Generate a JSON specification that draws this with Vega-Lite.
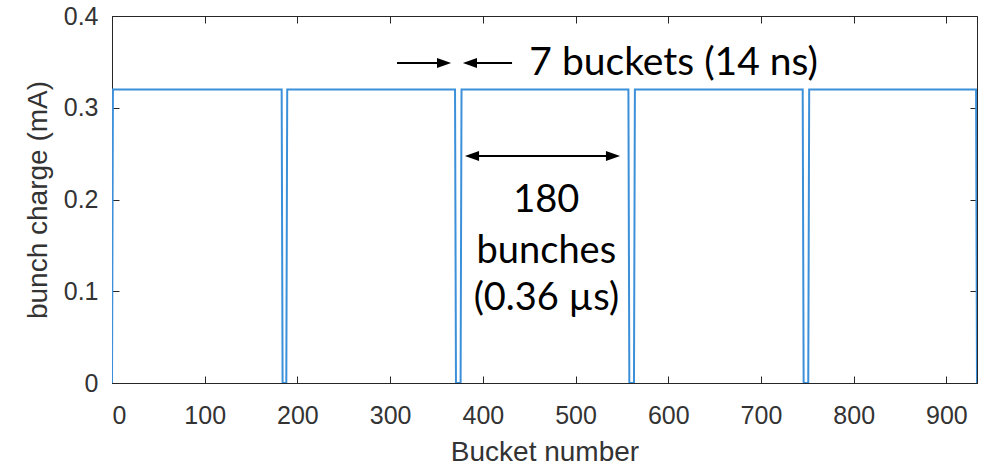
{
  "$schema": "https://vega.github.io/schema/vega-lite/v6.json",
  "width": 865,
  "height": 367,
  "autosize": {"type": "none"},
  "padding": {"left": 112, "top": 16, "right": 10, "bottom": 85},
  "background": "white",
  "config": {
    "view": {"stroke": "#262626", "strokeWidth": 1},
    "axis": {
      "grid": false,
      "domainColor": "#262626",
      "tickColor": "#262626",
      "labelFont": "Liberation Sans",
      "labelFontSize": 25,
      "labelColor": "#333333",
      "titleFont": "Liberation Sans",
      "titleFontSize": 28,
      "titleFontWeight": "normal",
      "titleColor": "#333333",
      "tickSize": -7
    }
  },
  "datasets": {
    "charge": [
      {"bucket": 0, "charge": 0},
      {"bucket": 1, "charge": 0.32},
      {"bucket": 183, "charge": 0.32},
      {"bucket": 184, "charge": 0},
      {"bucket": 188, "charge": 0},
      {"bucket": 189, "charge": 0.32},
      {"bucket": 370, "charge": 0.32},
      {"bucket": 371, "charge": 0},
      {"bucket": 376, "charge": 0},
      {"bucket": 377, "charge": 0.32},
      {"bucket": 557, "charge": 0.32},
      {"bucket": 558, "charge": 0},
      {"bucket": 563, "charge": 0},
      {"bucket": 564, "charge": 0.32},
      {"bucket": 745, "charge": 0.32},
      {"bucket": 746, "charge": 0},
      {"bucket": 751, "charge": 0},
      {"bucket": 752, "charge": 0.32},
      {"bucket": 932, "charge": 0.32},
      {"bucket": 933, "charge": 0}
    ],
    "arrows": [
      {"x1": 307.4, "x2": 362, "y": 0.3488},
      {"x1": 382, "x2": 431.5, "y": 0.3488},
      {"x1": 384, "x2": 544, "y": 0.2474}
    ],
    "headsRight": [
      {"x": 358.2, "y": 0.3488},
      {"x": 540.4, "y": 0.2474}
    ],
    "headsLeft": [
      {"x": 386.1, "y": 0.3488},
      {"x": 388.3, "y": 0.2474}
    ],
    "labelsTop": [
      {"x": 605.8, "y": 0.3357, "text": "7 buckets (14 ns)"}
    ],
    "labels": [
      {"x": 468.5, "y": 0.1864, "text": "180"},
      {"x": 468.5, "y": 0.1308, "text": "bunches"},
      {"x": 468.5, "y": 0.0796, "text": "(0.36 µs)"}
    ]
  },
  "layer": [
    {
      "data": {"name": "charge"},
      "mark": {"type": "line", "color": "#3b90d9", "strokeWidth": 2, "interpolate": "linear", "clip": true},
      "encoding": {
        "x": {"field": "bucket", "type": "quantitative", "scale": {"domain": [0, 933], "nice": false, "zero": false},
          "axis": {"title": "Bucket number", "values": [0, 100, 200, 300, 400, 500, 600, 700, 800, 900], "labelPadding": 27, "titlePadding": 10, "orient": "bottom"}},
        "y": {"field": "charge", "type": "quantitative", "scale": {"domain": [0, 0.4], "nice": false},
          "axis": {"title": "bunch charge (mA)", "values": [0, 0.1, 0.2, 0.3, 0.4], "format": "~g", "labelPadding": 21, "titlePadding": 11, "orient": "left"}}
      }
    },
    {
      "data": {"name": "charge"},
      "mark": {"type": "line", "strokeOpacity": 0},
      "encoding": {
        "x": {"field": "bucket", "type": "quantitative",
          "axis": {"orient": "top", "title": null, "labels": false, "values": [0, 100, 200, 300, 400, 500, 600, 700, 800, 900], "domain": false}},
        "y": {"field": "charge", "type": "quantitative",
          "axis": {"orient": "right", "title": null, "labels": false, "values": [0, 0.1, 0.2, 0.3, 0.4], "domain": false}}
      }
    },
    {
      "data": {"name": "arrows"},
      "mark": {"type": "rule", "color": "black", "strokeWidth": 2},
      "encoding": {
        "x": {"field": "x1", "type": "quantitative", "axis": null},
        "x2": {"field": "x2"},
        "y": {"field": "y", "type": "quantitative", "axis": null}
      }
    },
    {
      "data": {"name": "headsRight"},
      "mark": {"type": "point", "shape": "M-1,-0.7L1,0L-1,0.7Z", "filled": true, "color": "black", "opacity": 1, "size": 200},
      "encoding": {
        "x": {"field": "x", "type": "quantitative", "axis": null},
        "y": {"field": "y", "type": "quantitative", "axis": null}
      }
    },
    {
      "data": {"name": "headsLeft"},
      "mark": {"type": "point", "shape": "M1,-0.7L-1,0L1,0.7Z", "filled": true, "color": "black", "opacity": 1, "size": 200},
      "encoding": {
        "x": {"field": "x", "type": "quantitative", "axis": null},
        "y": {"field": "y", "type": "quantitative", "axis": null}
      }
    },
    {
      "data": {"name": "labelsTop"},
      "mark": {"type": "text", "font": "Lato", "fontSize": 39, "color": "black", "align": "center", "baseline": "alphabetic"},
      "encoding": {
        "x": {"field": "x", "type": "quantitative", "axis": null},
        "y": {"field": "y", "type": "quantitative", "axis": null},
        "text": {"field": "text"}
      }
    },
    {
      "data": {"name": "labels"},
      "mark": {"type": "text", "font": "Lato", "fontSize": 38, "color": "black", "align": "center", "baseline": "alphabetic"},
      "encoding": {
        "x": {"field": "x", "type": "quantitative", "axis": null},
        "y": {"field": "y", "type": "quantitative", "axis": null},
        "text": {"field": "text"}
      }
    }
  ],
  "resolve": {"axis": {"x": "independent", "y": "independent"}}
}
